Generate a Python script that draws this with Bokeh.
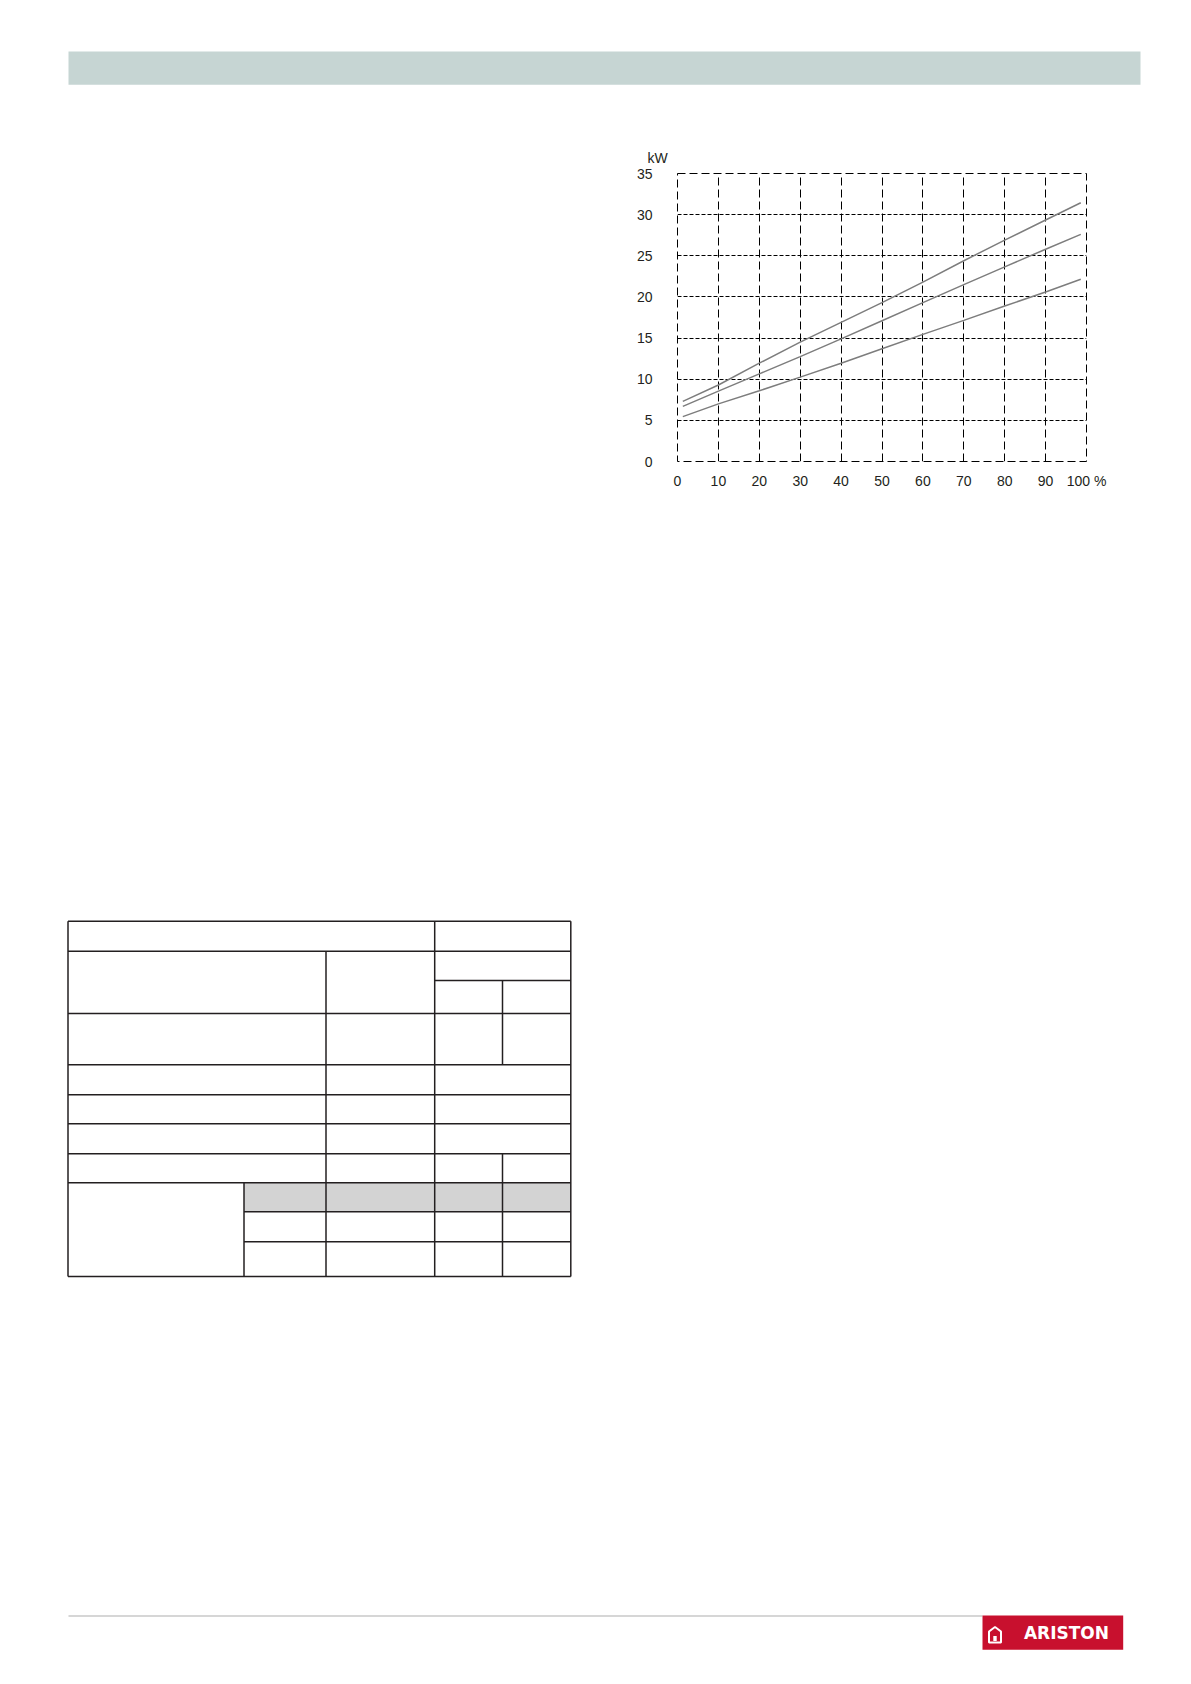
from bokeh.plotting import figure
from bokeh.models import Range1d, FixedTicker, Spacer
from bokeh.layouts import column, row
from bokeh.embed import file_html
from bokeh.resources import INLINE
from bokeh.core.properties import value

# ---------------- data ----------------
load_pct = [1.3, 10, 20, 30, 40, 50, 60, 70, 80, 90, 98.6]
curve_high = [7.3, 9.3, 11.95, 14.5, 16.9, 19.3, 21.8, 24.4, 26.9, 29.35, 31.45]
curve_mid = [6.7, 8.55, 10.65, 12.75, 14.9, 17.1, 19.3, 21.5, 23.65, 25.8, 27.6]
curve_low = [5.45, 7.0, 8.6, 10.25, 11.95, 13.7, 15.45, 17.15, 18.9, 20.6, 22.15]

x_ticks = [0, 10, 20, 30, 40, 50, 60, 70, 80, 90, 100]
x_tick_labels = ["0", "10", "20", "30", "40", "50", "60", "70", "80", "90", "100 %"]
y_ticks = [0, 5, 10, 15, 20, 25, 30, 35]
y_tick_labels = ["0", "5", "10", "15", "20", "25", "30", "35"]
y_unit = "kW"
brand = "ARISTON"

FONT = "Liberation Sans"
INK = "#231f20"


def blank(width, height, y0, y1):
    f = figure(width=width, height=height, x_range=Range1d(0, width),
               y_range=Range1d(y1, y0), output_backend="svg", toolbar_location=None,
               x_axis_location=None, y_axis_location=None, min_border=0,
               outline_line_color=None, background_fill_color="white",
               border_fill_color="white")
    f.grid.visible = False
    return f

# ---------------- header band ----------------
hdr = blank(1175, 120, 0, 120)
hdr.quad(left=[68], right=[1140], top=[51], bottom=[84.3], fill_color="#c6d5d3", line_color=None)

# ---------------- chart ----------------
p = figure(width=518, height=381, x_range=Range1d(0, 100), y_range=Range1d(0, 35),
           output_backend="svg", toolbar_location=None,
           min_border_left=69, min_border_right=40, min_border_top=53, min_border_bottom=40,
           background_fill_color="white", border_fill_color="white")
for ys in (curve_high, curve_mid, curve_low):
    p.line(load_pct, ys, line_color="#7d7d7d", line_width=1.5)

p.xaxis.ticker = FixedTicker(ticks=x_ticks)
p.xaxis.major_label_overrides = {t: l for t, l in zip(x_ticks, x_tick_labels)}
p.yaxis.ticker = FixedTicker(ticks=y_ticks)
p.yaxis.major_label_overrides = {t: l for t, l in zip(y_ticks, y_tick_labels)}
for ax in p.axis:
    ax.axis_line_color = None
    ax.major_tick_line_color = None
    ax.minor_tick_line_color = None
    ax.major_tick_out = 0
    ax.major_tick_in = 0
    ax.major_label_text_font = FONT
    ax.major_label_text_font_size = "14px"
    ax.major_label_text_color = INK
p.yaxis.major_label_standoff = 25
p.xaxis.major_label_standoff = 11

p.xgrid.ticker = FixedTicker(ticks=x_ticks[1:-1])
p.xgrid.grid_line_color = "black"
p.xgrid.grid_line_alpha = 1
p.xgrid.grid_line_width = 1
p.xgrid.grid_line_dash = "8 4"
p.ygrid.ticker = FixedTicker(ticks=y_ticks[1:-1])
p.ygrid.grid_line_color = "black"
p.ygrid.grid_line_alpha = 1
p.ygrid.grid_line_width = 1
p.ygrid.grid_line_dash = "4 2"
p.outline_line_color = "black"
p.outline_line_alpha = 1
p.outline_line_width = 1
p.outline_line_dash = "8 4"

p.title.text = y_unit
p.title.align = "left"
p.title.offset = -30
p.title.standoff = 16
p.title.vertical_align = "bottom"
p.title.text_font = FONT
p.title.text_font_size = "14px"
p.title.text_font_style = "normal"
p.title.text_color = INK

chart_row = row(Spacer(width=608, height=381), p)

# ---------------- bottom: table, footer, logo ----------------
bot = blank(1175, 1170, 501, 1671)
c0, c1, c2, c3, c4, c5 = 67.5, 243.5, 325.5, 434.2, 502.0, 570.3
r = [920.8, 950.8, 980.0, 1013.0, 1064.3, 1094.3, 1123.3, 1153.3, 1182.3, 1211.3, 1241.3, 1276.0]

bot.quad(left=[c1], right=[c5], top=[r[8]], bottom=[r[9]], fill_color="#d3d3d3", line_color=None)

hx0, hy0, hx1, hy1 = [], [], [], []
def hseg(xa, xb, y):
    hx0.append(xa); hx1.append(xb); hy0.append(y); hy1.append(y)
def vseg(x, ya, yb):
    hx0.append(x); hx1.append(x); hy0.append(ya); hy1.append(yb)

hseg(c0, c5, r[0]); hseg(c0, c5, r[1]); hseg(c3, c5, r[2])
for k in range(3, 9):
    hseg(c0, c5, r[k])
hseg(c1, c5, r[9]); hseg(c1, c5, r[10]); hseg(c0, c5, r[11])
vseg(c0, r[0], r[11]); vseg(c5, r[0], r[11]); vseg(c3, r[0], r[11])
vseg(c2, r[1], r[11]); vseg(c4, r[2], r[4]); vseg(c4, r[7], r[11]); vseg(c1, r[8], r[11])
bot.segment(x0=hx0, y0=hy0, x1=hx1, y1=hy1, line_color=INK, line_width=1.5)

# footer rule
bot.segment(x0=[68], y0=[1615.5], x1=[982], y1=[1615.5], line_color="#c8c8c8", line_width=1.5)
# logo
bot.quad(left=[982], right=[1122.7], top=[1615], bottom=[1649.3], fill_color="#c8102e", line_color=None)
bot.patch([988.5, 988.5, 994.5, 1000.5, 1000.5], [1642, 1631, 1626.5, 1631, 1642],
          fill_color=None, line_color="white", line_width=2)
bot.quad(left=[992.8], right=[996.2], top=[1635.5], bottom=[1640.5], fill_color="white", line_color=None)
bot.text(x=[1066], y=[1632.3], text=[brand], text_font=value("DejaVu Sans"),
         text_font_style="bold", text_font_size="17px", text_color="white",
         text_align="center", text_baseline="middle")

page = column(hdr, chart_row, bot)

with open("out.html", "w") as fh:
    fh.write(file_html(page, INLINE))
